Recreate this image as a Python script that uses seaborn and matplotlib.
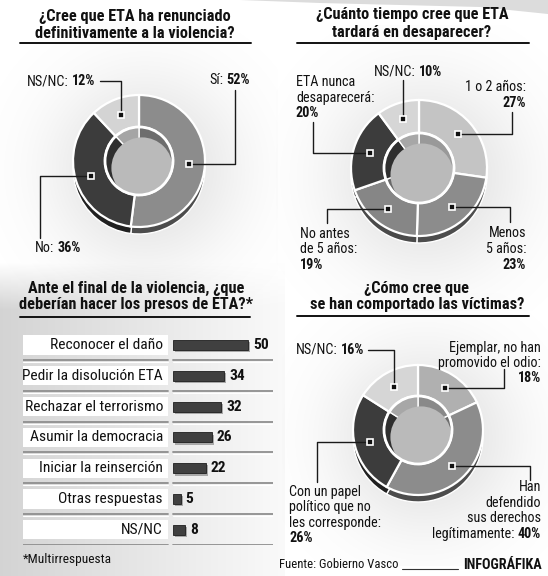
import numpy as np
import pandas as pd
import matplotlib.pyplot as plt
import matplotlib.patheffects as pe
from matplotlib.patches import Rectangle, Circle, Polygon
from matplotlib import font_manager, colors as mcolors
import seaborn as sns

# --- datos ---
q1_labels = ['Sí', 'No', 'NS/NC']
q1_values = [52, 36, 12]
q1_colors = ['#8c8c8c', '#3c3c3c', '#d4d4d4']

q2_labels = ['1 o 2 años', 'Menos 5 años', 'No antes de 5 años', 'ETA nunca desaparecerá', 'NS/NC']
q2_values = [27, 23, 19, 20, 10]
q2_colors = ['#c4c4c4', '#8c8c8c', '#868686', '#3c3c3c', '#d6d6d6']

presos_labels = ['Reconocer el daño', 'Pedir la disolución ETA', 'Rechazar el terrorismo',
                 'Asumir la democracia', 'Iniciar la reinserción', 'Otras respuestas', 'NS/NC']
presos_values = [50, 34, 32, 26, 22, 5, 8]

q4_labels = ['Ejemplar, no han promovido el odio', 'Han defendido sus derechos legítimamente',
             'Con un papel político que no les corresponde', 'NS/NC']
q4_values = [18, 40, 26, 16]
q4_colors = ['#b0b0b0', '#8c8c8c', '#3c3c3c', '#d6d6d6']

W, H = 548, 576

sns.set_theme(style='white')


def pick_font():
    fl = font_manager.fontManager.ttflist
    names = {f.name for f in fl}
    for nm, kk in [('Liberation Sans Narrow', 1.0), ('Roboto Condensed', 0.93),
                   ('Open Sans Condensed', 0.95)]:
        if nm in names:
            return nm, 'normal', kk
    for nm, kk in [('Roboto', 0.93), ('DejaVu Sans', 0.84), ('Open Sans', 0.9)]:
        if any(f.name == nm and f.stretch in ('condensed', 'semi-condensed') for f in fl):
            return nm, 'condensed', kk
    if 'Liberation Sans' in names:
        return 'Liberation Sans', 'normal', 0.84
    return 'DejaVu Sans', 'normal', 0.76


fam, stretch, k = pick_font()
k = k * 1.09
plt.rcParams['font.family'] = [fam, 'DejaVu Sans']
plt.rcParams['font.stretch'] = stretch

FS_T = 11.5 * k   # titulos
FS_L = 10 * k     # etiquetas donuts
FS_B = 11 * k     # barras
INK = '#111111'

fig = plt.figure(figsize=(W / 100, H / 100), dpi=100, facecolor='white')
ax = fig.add_axes([0, 0, 1, 1])
ax.set_xlim(0, W)
ax.set_ylim(H, 0)
ax.axis('off')


def shade(c, f):
    r, g, b = mcolors.to_rgb(c)
    return (r * f, g * f, b * f)


def halo(cx, cy, r, strength=0.22):
    n = 200
    ext = r * 2.1
    xs = np.linspace(-ext, ext, n)
    X, Y = np.meshgrid(xs, xs)
    d = np.hypot(X - 6, Y - 9) / r
    img = np.zeros((n, n, 4))
    img[..., :3] = 0.5
    img[..., 3] = strength * np.exp(-((d / 1.45) ** 2.5))
    ax.imshow(img, extent=(cx - ext, cx + ext, cy + ext, cy - ext), zorder=0,
              interpolation='bilinear')


# fondo gris del bloque de barras
gx = np.linspace(0, 1, 200)
gy = np.linspace(0, 1, 200)
GX, GY = np.meshgrid(gx, gy)
panel = np.zeros((200, 200, 4))
panel[..., :3] = (0.83 + 0.15 * GX)[..., None]
panel[..., 3] = np.clip(GY / 0.15, 0, 1)
ax.imshow(panel, extent=(0, 285, 576, 262), zorder=0, interpolation='bilinear')

# banda decorativa superior
ax.add_patch(Polygon([(240, 0), (548, 0), (548, 14), (480, 7), (320, 3)],
                     closed=True, fc='#dcdcdc', ec='none', zorder=0))


def donut(cx, cy, r, rin, values, cols):
    vals = np.array(values, float)
    kw = dict(startangle=-90, counterclock=True, frame=True)
    ax.pie(vals, colors=[shade(c, 0.55) for c in cols], radius=r, center=(cx, cy + 7),
           wedgeprops=dict(width=r - rin, edgecolor='white', linewidth=1), **kw)
    ax.pie(vals, colors=cols, radius=r, center=(cx, cy),
           wedgeprops=dict(width=r - rin, edgecolor='white', linewidth=1.6), **kw)
    ax.pie(vals, colors=[shade(c, 0.78) for c in cols], radius=rin, center=(cx, cy),
           wedgeprops=dict(edgecolor='white', linewidth=1), **kw)
    hole = Circle((cx, cy), rin, transform=ax.transData)
    floor = Circle((cx + 3, cy + 7), rin * 0.9, fc='#bababa', ec='none')
    ax.add_patch(floor)
    floor.set_clip_path(hole)
    ax.add_patch(Circle((cx, cy), rin, fc='none', ec='white', lw=2))
    frac = (np.cumsum(vals) - vals / 2) / vals.sum()
    ang = 2 * np.pi * frac
    rm = (r + rin) / 2
    return cx + rm * np.sin(ang), cy - rm * np.cos(ang)


def txt(x, y, s, bold=False, ha='left', size=None):
    return ax.text(x, y, s, ha=ha, va='center', fontsize=size or FS_L,
                   fontweight='bold' if bold else 'normal', color=INK, zorder=7)


def mixed(x, y, normal, bold, ha='left'):
    if ha == 'left':
        t = txt(x, y, normal)
        ax.annotate(bold, xy=(1, 0), xycoords=t, xytext=(2.5, 0), textcoords='offset points',
                    ha='left', va='bottom', fontsize=FS_L, fontweight='bold', color=INK)
    else:
        t = txt(x, y, bold, bold=True, ha='right')
        ax.annotate(normal, xy=(0, 0), xycoords=t, xytext=(-2.5, 0), textcoords='offset points',
                    ha='right', va='bottom', fontsize=FS_L, color=INK)


def dot(dx, dy):
    ax.plot(dx, dy, marker='s', ms=5, mfc='#111111', mec='white', mew=1.2, zorder=6)


def leader(dx, dy, kind, ex, ey):
    if kind == 'h':
        xs, ys = [dx, ex, ex], [dy, dy, ey]
    else:
        xs, ys = [dx, dx, ex], [dy, ey, ey]
    ax.plot(xs, ys, color='#1a1a1a', lw=1, zorder=5)
    dot(dx, dy)


def title(cx, y, lines, x0, x1, yline):
    for i, s in enumerate(lines):
        txt(cx, y + i * 17, s, bold=True, ha='center', size=FS_T)
    ax.plot([x0, x1], [yline, yline], color='#111111', lw=1.4)


# --- panel 1 ---
title(135, 17, ['¿Cree que ETA ha renunciado', 'definitivamente a la violencia?'], 20, 251, 43)
halo(139, 161, 66)
px, py = donut(139, 161, 66, 34, q1_values, q1_colors)
leader(px[0], py[0], 'h', 235, 90)
leader(px[1], py[1], 'h', 40, 238)
leader(px[2], py[2], 'v', 100, 81)
mixed(250, 80, 'Sí:', '52%', ha='right')
mixed(35, 248, 'No:', '36%')
mixed(95, 81, 'NS/NC:', '12%', ha='right')

# --- panel 2 ---
title(412, 15, ['¿Cuánto tiempo cree que ETA', 'tardará en desaparecer?'], 297, 529, 43)
halo(419, 168, 68)
px, py = donut(419, 168, 68, 35, q2_values, q2_colors)
leader(px[0], py[0], 'h', 512, 112)
leader(px[1], py[1], 'h', 510, 222)
leader(px[2], py[2], 'h', 327, 223)
leader(px[3], py[3], 'h', 313, 122)
ax.plot([px[4], px[4]], [py[4], 80], color='#1a1a1a', lw=1, zorder=5)
dot(px[4], py[4])
mixed(442, 72, 'NS/NC:', '10%', ha='right')
txt(526, 87, '1 o 2 años:', ha='right')
txt(526, 103, '27%', bold=True, ha='right')
txt(296, 82, 'ETA nunca')
txt(296, 98, 'desaparecerá:')
txt(296, 113, '20%', bold=True)
txt(526, 233, 'Menos', ha='right')
txt(526, 249, '5 años:', ha='right')
txt(526, 265, '23%', bold=True, ha='right')
txt(300, 234, 'No antes')
txt(300, 249, 'de 5 años:')
txt(300, 265, '19%', bold=True)

# --- panel 3: barras ---
title(136, 288, ['Ante el final de la violencia, ¿que', 'deberían hacer los presos de ETA?*'],
      20, 250, 317)
row0, step = 345, 30.8
n = len(presos_labels)
top = row0 - step / 2
bax = fig.add_axes([23 / W, 1 - (top + n * step) / H, 250 / W, n * step / H])
df = pd.DataFrame({'accion': presos_labels, 'valor': presos_values})
sns.barplot(data=df, x='valor', y='accion', orient='h', color='#404040', saturation=1,
            width=0.33, edgecolor='#1e1e1e', linewidth=0.6, ax=bax)
for p in bax.patches:
    p.set_path_effects([pe.SimplePatchShadow(offset=(1.6, -1.6), shadow_rgbFace='#a8a8a8', alpha=1),
                        pe.Normal()])
bax.set_xlim(-100, 250 / 1.5 - 100)
bax.set_ylim(n - 0.5, -0.5)
bax.axis('off')
bax.patch.set_alpha(0)
for i, (lab, v) in enumerate(zip(presos_labels, presos_values)):
    bax.add_patch(Rectangle((-100, i - 0.31), 145 / 1.5, 0.62, fc='white', ec='none', zorder=0))
    for xa, xb in [(-100, -3.3), (0, 66.7)]:
        bax.plot([xa, xb], [i + 0.49, i + 0.49], color='#8e8e8e', lw=1.3, zorder=1)
        bax.plot([xa, xb], [i + 0.55, i + 0.55], color='white', lw=0.8, zorder=1)
    bax.text(-6.7, i, lab, ha='right', va='center', fontsize=FS_B, color=INK)
    bax.text(v + 3.3, i, str(v), ha='left', va='center', fontsize=FS_B, fontweight='bold', color=INK)
txt(23, 560, '*Multirrespuesta', size=9.5 * k)

# --- panel 4 ---
title(417, 288, ['¿Cómo cree que', 'se han comportado las víctimas?'], 297, 529, 316)
halo(418, 430, 65)
px, py = donut(418, 430, 65, 34, q4_values, q4_colors)
leader(px[0], py[0], 'h', 504, 369)
leader(px[1], py[1], 'h', 530, 480)
leader(px[2], py[2], 'h', 317, 482)
leader(px[3], py[3], 'v', 368, 350)
mixed(364, 350, 'NS/NC:', '16%', ha='right')
txt(541, 348, 'Ejemplar, no han', ha='right')
txt(541, 363, 'promovido el odio:', ha='right')
txt(541, 378, '18%', bold=True, ha='right')
txt(541, 487, 'Han', ha='right')
txt(541, 503, 'defendido', ha='right')
txt(541, 518, 'sus derechos', ha='right')
mixed(541, 534, 'legítimamente:', '40%', ha='right')
txt(289, 492, 'Con un papel')
txt(289, 507, 'político que no')
txt(289, 523, 'les corresponde:')
txt(289, 538, '26%', bold=True)

# pie de grafico
txt(279, 565, 'Fuente: Gobierno Vasco', size=9 * k)
ax.plot([402, 458], [569, 569], color='#333333', lw=0.8)
txt(542, 565, 'INFOGRÁFIKA', bold=True, ha='right', size=10 * k)

ax.set_aspect('auto')
ax.set_xlim(0, W)
ax.set_ylim(H, 0)
fig.savefig('out.png', dpi=100, facecolor='white')
